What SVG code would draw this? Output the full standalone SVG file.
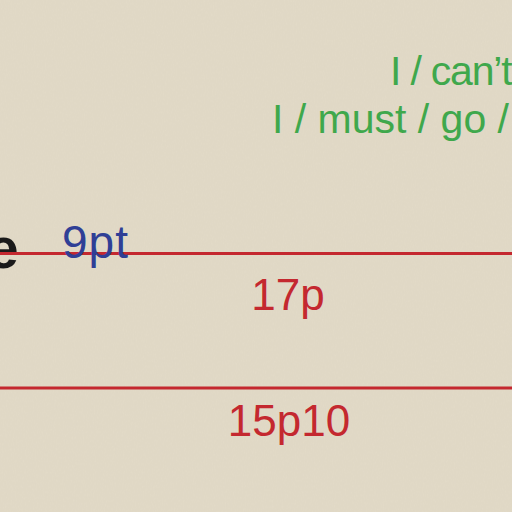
<svg xmlns="http://www.w3.org/2000/svg" width="512" height="512" viewBox="0 0 512 512">
  <defs>
    <filter id="paper" x="0" y="0" width="100%" height="100%">
      <feTurbulence type="fractalNoise" baseFrequency="0.9 0.35" numOctaves="3" seed="4" result="n"/>
      <feColorMatrix in="n" type="matrix" values="0 0 0 0 0.6  0 0 0 0 0.55  0 0 0 0 0.45  0 0 0 0.14 0" result="c"/>
      <feComposite in="c" in2="SourceGraphic" operator="over"/>
    </filter>
    <style>
      .t { font-family: "Liberation Sans", Arial, sans-serif; }
      .green { fill: #3fa84c; font-size: 41px; }
      .red { fill: #c4282f; font-size: 44px; }
      .blue { fill: #2f3f96; font-size: 46px; letter-spacing: 1px; }
      .rule { stroke: #c4282f; stroke-width: 3; }
    </style>
  </defs>
  <rect width="512" height="512" fill="#e2dac7" filter="url(#paper)"/>
  <text class="t green" x="390" y="85" letter-spacing="-1.2">I / can’t</text>
  <text class="t green" x="272" y="133">I / must / go /</text>
  <text class="t" x="-13" y="268" font-size="57" font-weight="bold" fill="#1a1a1a">e</text>
  <line class="rule" x1="0" y1="253.5" x2="512" y2="253.5"/>
  <line class="rule" x1="0" y1="388" x2="512" y2="388"/>
  <text class="t blue" x="62" y="258">9pt</text>
  <text class="t red" x="288" y="310" text-anchor="middle">17p</text>
  <text class="t red" x="289" y="436" text-anchor="middle">15p10</text>
</svg>
